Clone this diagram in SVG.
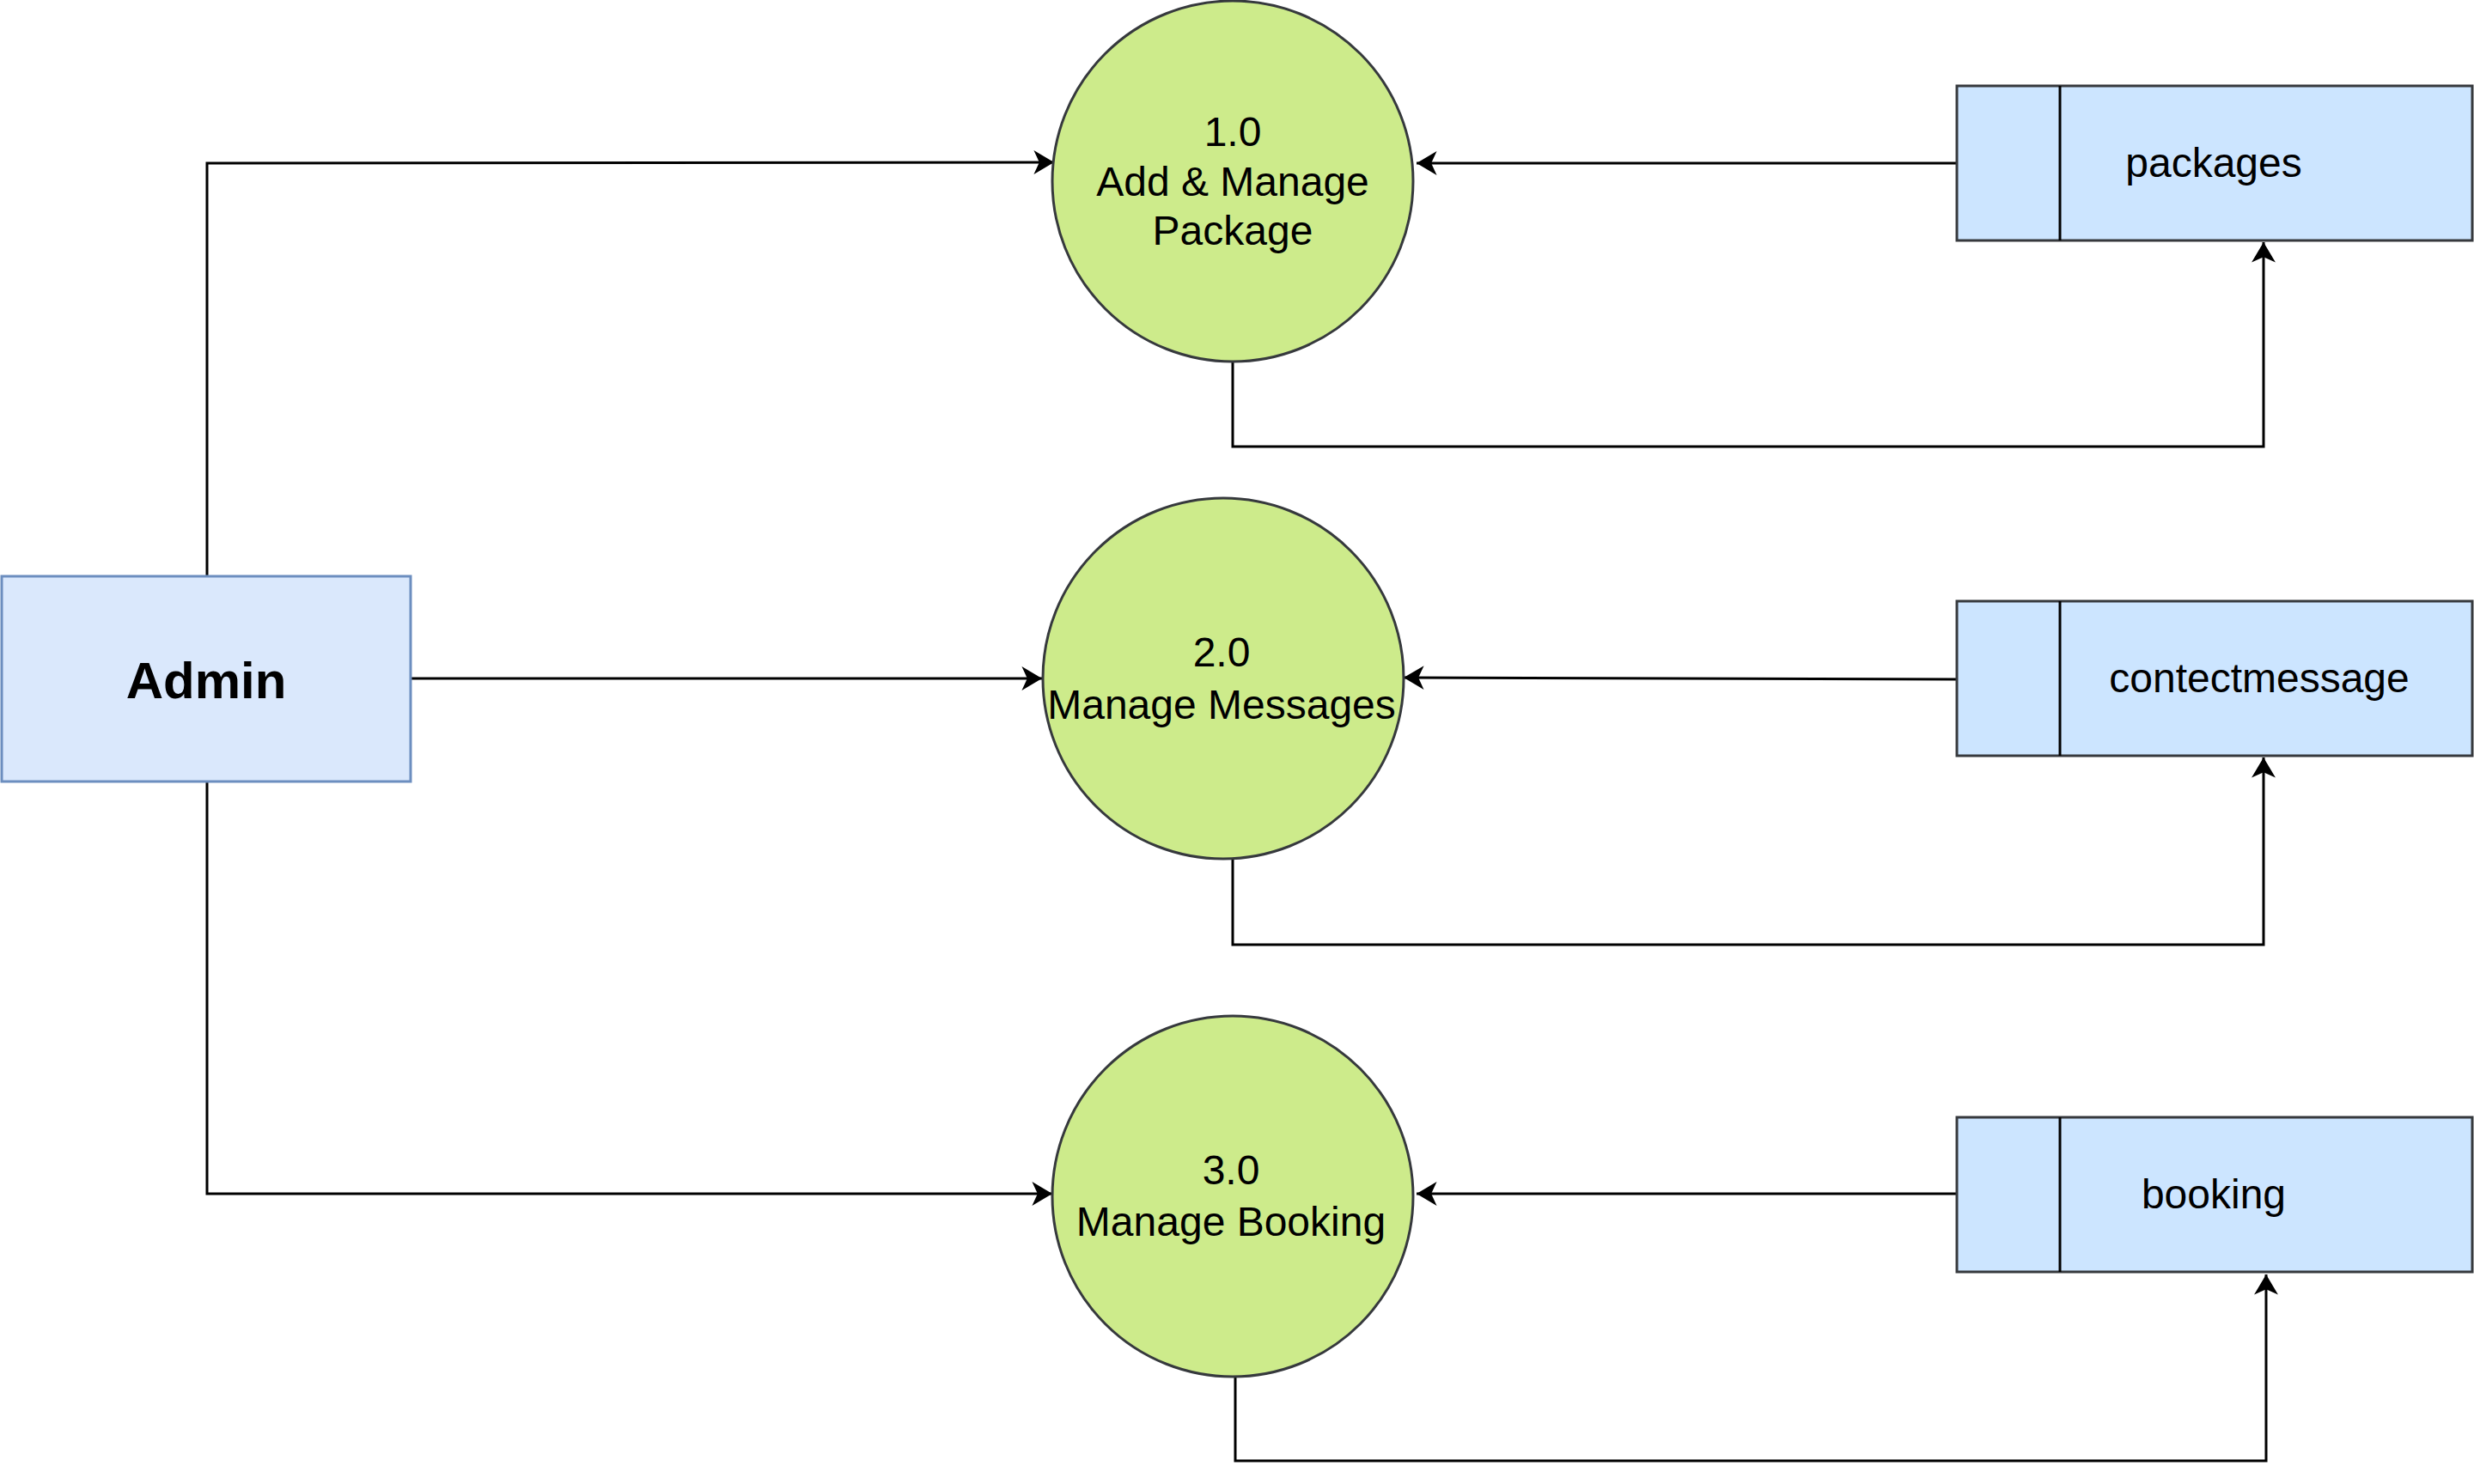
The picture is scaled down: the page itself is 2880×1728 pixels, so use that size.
<svg xmlns="http://www.w3.org/2000/svg" width="2880" height="1728" viewBox="0 0 2880 1728">
<style>
.proc{fill:#cdeb8b;stroke:#36393d;stroke-width:3}
.ent{fill:#dae8fc;stroke:#6c8ebf;stroke-width:3}
.store{fill:#cce5ff;stroke:#36393d;stroke-width:3}
.div{stroke:#000;stroke-width:3}
.t{font-family:"Liberation Sans",Arial,sans-serif;font-size:48px;fill:#000;text-anchor:middle}
.tb{font-family:"Liberation Sans",Arial,sans-serif;font-size:60px;font-weight:bold;fill:#000;text-anchor:middle}
.c{fill:none;stroke:#000;stroke-width:3}
</style>
<defs>
<marker id="arr" markerUnits="userSpaceOnUse" markerWidth="30" markerHeight="30" viewBox="-2 -14 26 28" refX="22" refY="0" orient="auto">
<path d="M22,0 L0,-13 L6,0 L0,13 Z" fill="#000"/>
</marker>
</defs>
<rect width="2880" height="1728" fill="#fff"/>
<g id="connectors">
<path class="c" d="M241,670 L241,190 L1227,189" marker-end="url(#arr)"/>
<path class="c" d="M479,790 L1213,790" marker-end="url(#arr)"/>
<path class="c" d="M241,911 L241,1390 L1225,1390" marker-end="url(#arr)"/>
<path class="c" d="M2278,190 L1649,190" marker-end="url(#arr)"/>
<path class="c" d="M1435,421 L1435,520 L2635,520 L2635,282" marker-end="url(#arr)"/>
<path class="c" d="M2278,791 L1634,789" marker-end="url(#arr)"/>
<path class="c" d="M1435,999 L1435,1100 L2635,1100 L2635,882" marker-end="url(#arr)"/>
<path class="c" d="M2278,1390 L1649,1390" marker-end="url(#arr)"/>
<path class="c" d="M1438,1603 L1438,1701 L2638,1701 L2638,1484" marker-end="url(#arr)"/>
</g>
<g id="admin">
<rect class="ent" x="2" y="671" width="476" height="239"/>
<text class="tb" x="240" y="813">Admin</text>
</g>
<g id="p1">
<circle class="proc" cx="1435" cy="211" r="210"/>
<text class="t" x="1435" y="170">1.0</text>
<text class="t" x="1435" y="228">Add &amp; Manage</text>
<text class="t" x="1435" y="285">Package</text>
</g>
<g id="p2">
<circle class="proc" cx="1424" cy="790" r="210"/>
<text class="t" x="1422" y="776">2.0</text>
<text class="t" x="1422" y="837">Manage Messages</text>
</g>
<g id="p3">
<circle class="proc" cx="1435" cy="1393" r="210"/>
<text class="t" x="1433" y="1379">3.0</text>
<text class="t" x="1433" y="1439">Manage Booking</text>
</g>
<g id="s1">
<rect class="store" x="2278" y="100" width="600" height="180"/>
<line class="div" x1="2398" y1="100" x2="2398" y2="280"/>
<text class="t" x="2577" y="206">packages</text>
</g>
<g id="s2">
<rect class="store" x="2278" y="700" width="600" height="180"/>
<line class="div" x1="2398" y1="700" x2="2398" y2="880"/>
<text class="t" x="2630" y="806">contectmessage</text>
</g>
<g id="s3">
<rect class="store" x="2278" y="1301" width="600" height="180"/>
<line class="div" x1="2398" y1="1301" x2="2398" y2="1481"/>
<text class="t" x="2577" y="1407">booking</text>
</g>
</svg>
